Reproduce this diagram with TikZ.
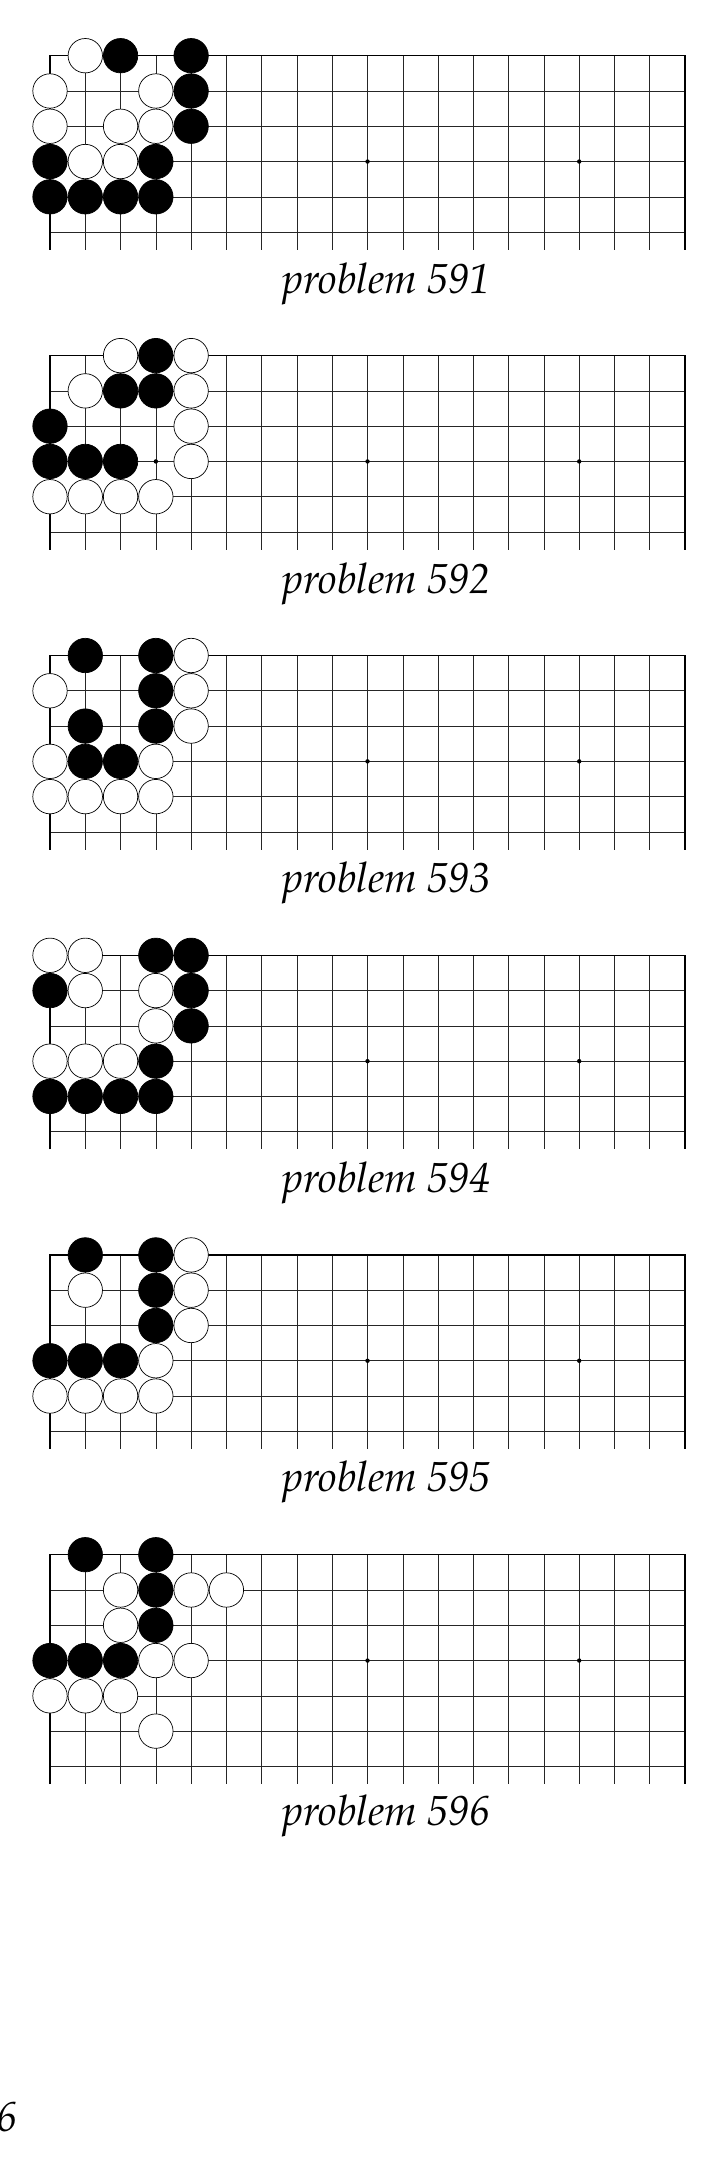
\documentclass[tikz,border=0pt]{standalone}
\usepackage{fontspec}
\newfontfamily\capfont{TeX Gyre Pagella}
\tikzset{
  gridline/.style={line width=0.6pt, black!85},
  edgeline/.style={line width=1.2pt, black},
  wstone/.style={draw=black, fill=white, line width=0.7pt},
  bstone/.style={draw=black, fill=black, line width=0.7pt},
  starpt/.style={fill=black},
  caption/.style={font=\capfont\itshape\fontsize{42}{50}\selectfont, anchor=base, inner sep=0pt},
}
\def\sp{35.28}
% #1 top y, #2 last row index, #3 white stones, #4 black stones
\newcommand\drawgoboard[4]{%
  \foreach \i in {1,...,17} \draw[gridline] ({50+\i*\sp},#1) -- ({50+\i*\sp},{#1+(#2+0.5)*\sp});
  \foreach \j in {1,...,#2} \draw[gridline] (50,{#1+\j*\sp}) -- ({50+18*\sp},{#1+\j*\sp});
  \draw[edgeline] (50,{#1+(#2+0.5)*\sp}) -- (50,#1) -- ({50+18*\sp},#1) -- ({50+18*\sp},{#1+(#2+0.5)*\sp});
  \foreach \c in {3,9,15} \fill[starpt] ({50+\c*\sp},{#1+3*\sp}) circle[radius=2.2pt];
  \foreach \c/\r in {#3} \draw[wstone] ({50+\c*\sp},{#1+\r*\sp}) circle[radius=17.2pt];
  \foreach \c/\r in {#4} \draw[bstone] ({50+\c*\sp},{#1+\r*\sp}) circle[radius=17.2pt];
}
\begin{document}
\begin{tikzpicture}[x=1pt, y=-1pt]
\useasboundingbox (0,0) rectangle (725,2181);
\fill[white] (0,0) rectangle (725,2181);
% problem 591
\drawgoboard{55.7}{5}{1/0,0/1,3/1,0/2,2/2,3/2,1/3,2/3}{2/0,4/0,4/1,4/2,0/3,3/3,0/4,1/4,2/4,3/4}
\node[caption] (lab591) at (386.5,293) {problem 591};
% problem 592
\drawgoboard{355.6}{5}{2/0,4/0,1/1,4/1,4/2,4/3,0/4,1/4,2/4,3/4}{3/0,2/1,3/1,0/2,0/3,1/3,2/3}
\node[caption] (lab592) at (386.5,593) {problem 592};
% problem 593
\drawgoboard{655.5}{5}{4/0,0/1,4/1,4/2,0/3,3/3,0/4,1/4,2/4,3/4}{1/0,3/0,3/1,1/2,3/2,1/3,2/3}
\node[caption] (lab593) at (386.5,892.5) {problem 593};
% problem 594
\drawgoboard{955.3}{5}{0/0,1/0,1/1,3/1,3/2,0/3,1/3,2/3}{3/0,4/0,0/1,4/1,4/2,3/3,0/4,1/4,2/4,3/4}
\node[caption] (lab594) at (386.5,1192.3) {problem 594};
% problem 595
\drawgoboard{1254.9}{5}{4/0,1/1,4/1,4/2,3/3,0/4,1/4,2/4,3/4}{1/0,3/0,3/1,3/2,0/3,1/3,2/3}
\node[caption] (lab595) at (386.5,1491.8) {problem 595};
% problem 596
\drawgoboard{1554.7}{6}{2/1,4/1,5/1,2/2,3/3,4/3,0/4,1/4,2/4,3/5}{1/0,3/0,3/1,3/2,0/3,1/3,2/3}
\node[caption] (lab596) at (386.5,1825) {problem 596};
% page number
\node[caption, anchor=base east] (pagenum) at (18,2131) {6};
\end{tikzpicture}
\end{document}
